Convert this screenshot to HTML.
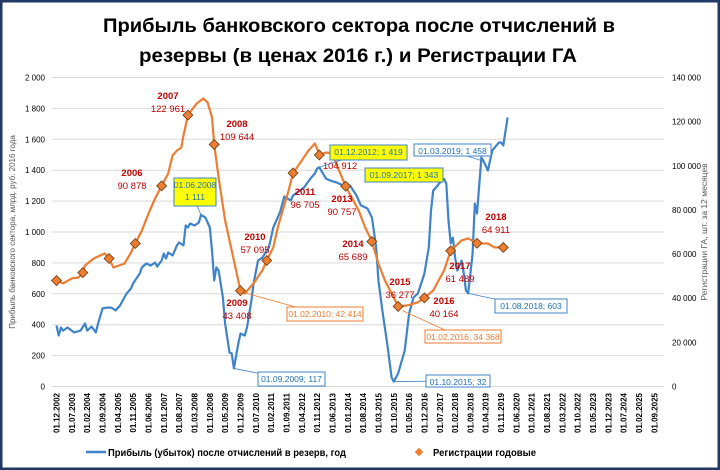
<!DOCTYPE html>
<html><head><meta charset="utf-8"><style>
body{margin:0;background:#fff}
svg{display:block;font-family:"Liberation Sans",sans-serif}
</style></head><body>
<svg id="chart" width="720" height="470" viewBox="0 0 720 470">
<rect x="1" y="1" width="718" height="468" fill="#fff" stroke="#1f3864" stroke-width="3"/>
<text x="359" y="32" text-anchor="middle" font-size="19" font-weight="bold" textLength="512" lengthAdjust="spacingAndGlyphs">Прибыль банковского сектора после отчислений в</text>
<text x="358" y="62" text-anchor="middle" font-size="19" font-weight="bold" textLength="438" lengthAdjust="spacingAndGlyphs">резервы (в ценах 2016 г.) и Регистрации ГА</text>
<g id="grid"></g><g id="axes"></g><g id="series"></g><g id="annot"></g>
<text transform="translate(15,232) rotate(-90)" text-anchor="middle" font-size="8" fill="#595959">Прибыль банковского сектора, млрд. руб. 2016 года</text>
<text transform="translate(707,232) rotate(-90)" text-anchor="middle" font-size="8.5" fill="#595959">Регистрации ГА, шт. за 12 месяцев</text>
<g>
<line x1="86" y1="452" x2="106" y2="452" stroke="#3f83c8" stroke-width="2.5"/>
<text x="108" y="456" font-size="10" font-weight="bold" textLength="238" lengthAdjust="spacingAndGlyphs">Прибыль (убыток) после отчислений в резерв, год</text>
<rect x="416" y="449" width="6" height="6" fill="#ed7d31" transform="rotate(45 419 452)"/>
<text x="433" y="456" font-size="10" font-weight="bold" textLength="103" lengthAdjust="spacingAndGlyphs">Регистрации годовые</text>
</g>
</svg>
<script>
// Profit series (months since 01.12.2002, billion rub)
const profitMonths=[0,1,2,3,5,8,11,13,14,16,18,19,21,23,25,27,29,32,34,35,38,39,41,43,45,46,48,49,50,51,53,55,56,58,59,60,61,63,65,66,68,70,71,72,73,74,76,77,79,80,81,83,84,86,87,89,90,92,94,97,99,102,104,107,108,113,116,118,119,120,123,125,128,131,134,137,139,142,144,146,147,149,151,153,154,156,159,161,163,165,168,170,171,172,174,175,177,178,179,180,181,182,183,185,186,187,188,190,191,192,194,195,197,199,202,203,204,206];
const profitValues=[395,330,382,362,382,350,362,408,362,388,350,408,505,511,511,492,524,602,634,667,731,770,796,783,802,777,815,861,828,867,848,913,932,913,1042,1029,1055,1042,1061,1111,1094,1029,880,686,770,751,576,408,220,214,117,278,343,330,382,557,667,815,835,900,1029,1126,1230,1204,1236,1288,1346,1379,1411,1419,1346,1333,1320,1301,1301,1236,1172,1152,1094,900,686,472,278,58,32,84,233,472,576,602,731,900,1139,1268,1301,1320,1343,1314,1074,926,964,835,751,815,731,621,603,861,1184,1120,1482,1458,1398,1528,1579,1579,1560,1741];
// Registrations (thousand units, rolling 12 months)
const regMonths=[0,3,7,10,12,13,17,22,24,26,31,34,36,39,42,45,48,51,53,55,57,58,60,64,67,69,71,72,74,77,81,84,86,90,94,96,99,101,106,108,112,115,118,119,120,123,126,129,132,138,141,144,147,150,154,156,160,165,168,172,177,180,185,188,192,197,200,204];
const regValues=[48.0,46.7,49.0,49.4,51.6,54.8,58.0,60.3,58.0,53.9,55.7,60.7,64.8,70.7,78.4,85.2,90.9,96.5,104.7,106.9,108.3,113.7,123.0,128.2,130.5,128.7,121.9,109.6,94.7,75.2,57.1,43.4,42.1,46.7,52.6,57.1,63.0,72.0,88.8,96.7,102.4,106.9,110.1,107.8,104.9,106.0,105.6,97.9,90.8,79.7,72.0,65.7,55.7,48.0,40.3,36.3,36.7,38.1,40.2,43.5,52.6,61.5,66.2,67.1,64.9,64.8,63.0,63.0];
// Yearly markers (December of each year)
const yearLabels=[2002,2003,2004,2005,2006,2007,2008,2009,2010,2011,2012,2013,2014,2015,2016,2017,2018,2019];
const yearValues=[48.0,51.6,58.0,64.8,90.878,122.961,109.644,43.408,57.095,96.705,104.912,90.757,65.689,36.277,40.164,61.489,64.911,63.0];
const leftTicks=[0,200,400,600,800,1000,1200,1400,1600,1800,2000];
const leftTickLabels=["0","200","400","600","800","1 000","1 200","1 400","1 600","1 800","2 000"];
const rightTicks=[0,20,40,60,80,100,120,140];
const rightTickLabels=["0","20 000","40 000","60 000","80 000","100 000","120 000","140 000"];
const xTickLabels=["01.12.2002","01.07.2003","01.02.2004","01.09.2004","01.04.2005","01.11.2005","01.06.2006","01.01.2007","01.08.2007","01.03.2008","01.10.2008","01.05.2009","01.12.2009","01.07.2010","01.02.2011","01.09.2011","01.04.2012","01.11.2012","01.06.2013","01.01.2014","01.08.2014","01.03.2015","01.10.2015","01.05.2016","01.12.2016","01.07.2017","01.02.2018","01.09.2018","01.04.2019","01.11.2019","01.06.2020","01.01.2021","01.08.2021","01.03.2022","01.10.2022","01.05.2023","01.12.2023","01.07.2024","01.02.2025","01.09.2025"];

const NS="http://www.w3.org/2000/svg";
const X0=56.5, XS=2.19, YB=386.5, YT=77.5;
const x=m=>X0+m*XS;
const yL=v=>YB-(v/2000)*(YB-YT);
const yR=r=>YB-(r/140)*(YB-YT);
function mk(tag,attrs,parent,txt){const e=document.createElementNS(NS,tag);for(const k in attrs)e.setAttribute(k,attrs[k]);if(txt!==undefined)e.textContent=txt;parent.appendChild(e);return e;}
const grid=document.getElementById('grid'),axes=document.getElementById('axes'),series=document.getElementById('series'),annot=document.getElementById('annot');
leftTicks.forEach((v,i)=>{
  const l=mk('line',{x1:52,x2:664,y1:yL(v),y2:yL(v),stroke:'#d9d9d9','stroke-width':1},grid);
  
  
  const t=mk('text',{x:45,y:yL(v)+3,'text-anchor':'end','font-size':8},axes,leftTickLabels[i]);
  
  
});
rightTicks.forEach((r,i)=>{
  const t=mk('text',{x:672,y:yR(r)+3,'font-size':8},axes,rightTickLabels[i]);
  
  
});
xTickLabels.forEach((s,i)=>{
  const t=mk('text',{transform:`translate(${x(i*7)+3},393) rotate(-90)`,'text-anchor':'end','font-size':8,'font-weight':'bold'},axes,s);
  
  
});
const pp=profitMonths.map((m,i)=>x(m).toFixed(1)+','+yL(profitValues[i]).toFixed(1)).join(' ');
const pl=mk('polyline',{points:pp,fill:'none',stroke:'#3f83c8','stroke-width':2.2,'stroke-linejoin':'round'},series);


const rp=regMonths.map((m,i)=>x(m).toFixed(1)+','+yR(regValues[i]).toFixed(1)).join(' ');
const rl=mk('polyline',{points:rp,fill:'none',stroke:'#ed7d31','stroke-width':2.2,'stroke-linejoin':'round'},series);


yearValues.forEach((v,i)=>{
  const cx=x(i*12),cy=yR(v);
  const d=mk('rect',{x:cx-3.5,y:cy-3.5,width:7,height:7,fill:'#ed7d31',stroke:'#6b3a10','stroke-width':0.8,transform:`rotate(45 ${cx} ${cy})`},series);
  
  
});
// year labels
const labelPos={2006:[132,172],2007:[168,95],2008:[237,123],2009:[237,302],2010:[255,236],2011:[305,191],2012:[340,152],2013:[342,198],2014:[353,243],2015:[400,281],2016:[444,300],2017:[460,265],2018:[496,216]};
yearLabels.forEach((yr,i)=>{
  if(!labelPos[yr])return;
  const [lx,ly]=labelPos[yr];
  const a=mk('text',{x:lx,y:ly+4,'text-anchor':'middle','font-size':9.5,'font-weight':'bold',fill:'#c00000'},annot,String(yr));
  
  
  const val=Math.round(yearValues[i]*1000).toString().replace(/\B(?=(\d{3})+(?!\d))/g,' ');
  const b=mk('text',{x:lx,y:ly+17,'text-anchor':'middle','font-size':9.5,fill:'#c00000'},annot,val);
  
  
});
// callouts
function callout(name,bx,by,bw,bh,lines,fill,stroke,color,px,py){
  const g=mk('g',{},annot);
  
  
  mk('polyline',{points:`${px},${py} ${bx+bw/2-4},${by+bh/2} ${bx+bw/2+4},${by+bh/2}`,fill:stroke==='#ed7d31'?'none':'none',stroke:stroke,'stroke-width':0.8},g);
  mk('rect',{x:bx,y:by,width:bw,height:bh,fill:fill,stroke:stroke,'stroke-width':1},g);
  lines.forEach((s,k)=>mk('text',{x:bx+bw/2,y:by+10+k*12,'text-anchor':'middle','font-size':8.5,fill:color},g,s));
}
callout('callout-2008-peak',174,178,42,28,['01.06.2008','1 111'],'#ffff00','#3f83c8','#1f6fb8',x(66),yL(1111));
callout('callout-2009-min',258,372,67,14,['01.09.2009; 117'],'#fff','#3f83c8','#1f6fb8',x(81),yL(117));
callout('callout-reg-2010',287,307,76,14,['01.02.2010; 42 414'],'#fff','#ed7d31','#ed7d31',x(86),yR(42.414));
callout('callout-2012-peak',330,145,77,15,['01.12.2012; 1 419'],'#ffff00','#3f83c8','#1f6fb8',x(120),yL(1419));
callout('callout-2017-peak',365,168,78,14,['01.09.2017; 1 343'],'#ffff00','#3f83c8','#1f6fb8',x(177),yL(1343));
callout('callout-2019',414,144,77,12,['01.03.2019; 1 458'],'#fff','#3f83c8','#1f6fb8',x(195),yL(1458));
callout('callout-2015-min',426,375,64,12,['01.10.2015; 32'],'#fff','#3f83c8','#1f6fb8',x(154),yL(32));
callout('callout-reg-2016',425,330,76,13,['01.02.2016; 34 368'],'#fff','#ed7d31','#ed7d31',x(158),yR(34.368));
callout('callout-2018-min',495,299,72,14,['01.08.2018; 603'],'#fff','#3f83c8','#1f6fb8',x(188),yL(603));
</script>
</body></html>
